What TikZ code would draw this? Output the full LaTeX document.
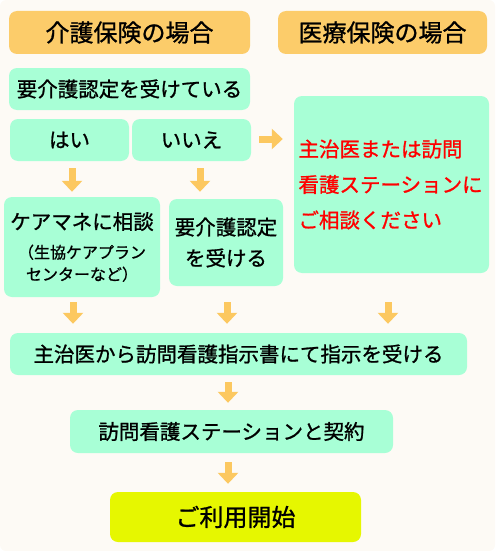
\documentclass[tikz,border=0pt]{standalone}
\usepackage{fontspec}
\setmainfont[FakeBold=1]{Noto Sans CJK JP}
\usetikzlibrary{arrows.meta}
\definecolor{grund}{RGB}{253,250,245}
\definecolor{minze}{RGB}{168,255,214}
\definecolor{kopffarbe}{RGB}{252,204,106}
\definecolor{pfeilfarbe}{RGB}{252,200,96}
\definecolor{startfarbe}{RGB}{230,247,0}
\definecolor{rottext}{RGB}{255,0,0}
\begin{document}
\begin{tikzpicture}[x=1pt, y=-1pt,
		kasten/.style={fill=minze, rounded corners=8pt, inner sep=0pt, align=center,
			font=\fontsize{20.5}{24}\selectfont},
		kopf/.style={fill=kopffarbe, rounded corners=8pt, inner sep=0pt,
			minimum height=43pt, font=\fontsize{24}{28}\selectfont},
		pfeil/.style={draw=pfeilfarbe, line width=7pt, -{Triangle[width=20pt,length=11pt]}}]
		% Hintergrund
		\useasboundingbox (0,0) rectangle (495,551);
		\fill[grund, rounded corners=6pt] (0,0) rectangle (495,551);
		% Kopfzeilen
		\node[kopf, minimum width=241pt] (kopfA) at (129.5,32.5) {介護保険の場合};
		\node[kopf, minimum width=209pt] (kopfB) at (382.5,32.5) {医療保険の場合};
		% Kaesten Pflegeversicherung
		\node[kasten, minimum width=241pt, minimum height=42pt] (nintei) at (129.5,89) {要介護認定を受けている};
		\node[kasten, minimum width=119pt, minimum height=42pt] (hai) at (69.5,140) {はい};
		\node[kasten, minimum width=119pt, minimum height=42pt] (iie) at (191.5,140) {いいえ};
		\node[kasten, minimum width=156pt, minimum height=100pt, font=\fontsize{20.5}{22}\selectfont]
			(cm) at (82,247) {\raisebox{-3pt}{ケアマネに相談}\\[10pt]{\fontsize{16}{22}\selectfont （生協ケアプラン}\\{\fontsize{16}{22}\selectfont センターなど）}};
		\node[kasten, minimum width=114pt, minimum height=87pt, font=\fontsize{20.5}{31}\selectfont]
			(yokaigo) at (226,242.5) {要介護認定\\を受ける};
		% Kasten Krankenversicherung
		\node[kasten, minimum width=195pt, minimum height=177pt, text width=186pt, align=left,
			text=rottext, font=\fontsize{20.5}{35.5}\selectfont]
			(iryo) at (391.5,184.5) {主治医または訪問\\看護ステーションに\\ご相談ください};
		% gemeinsamer Ablauf
		\node[kasten, minimum width=457pt, minimum height=42pt] (shiji) at (238.5,354) {主治医から訪問看護指示書にて指示を受ける};
		\node[kasten, minimum width=323pt, minimum height=43pt] (keiyaku) at (231.5,431.5) {訪問看護ステーションと契約};
		\node[kasten, fill=startfarbe, minimum width=251pt, minimum height=50pt,
			font=\fontsize{24}{28}\selectfont] (beginn) at (235.5,517) {ご利用開始};
		% Pfeile
		\coordinate (p1) at ([xshift=2.5pt]hai.south);
		\coordinate (p2) at ([xshift=8.5pt]iie.south);
		\coordinate (p3) at ([yshift=1pt]iie.east);
		\coordinate (p4) at ([xshift=-9pt]cm.south);
		\coordinate (p5) at ([xshift=1pt]yokaigo.south);
		\coordinate (p6) at ([xshift=-3.5pt]iryo.south);
		\coordinate (p7) at ([xshift=-3.5pt]keiyaku.north);
		\coordinate (p8) at ([xshift=-7.5pt]beginn.north);
		\draw[pfeil, shorten <=7pt, shorten >=5pt] (p1) -- (p1 |- cm.north);
		\draw[pfeil, shorten <=7pt, shorten >=7pt] (p2) -- (p2 |- yokaigo.north);
		\draw[pfeil, shorten <=8pt, shorten >=11pt] (p3) -- (p3 -| iryo.west);
		\draw[pfeil, shorten <=5pt, shorten >=9pt] (p4) -- (p4 |- shiji.north);
		\draw[pfeil, shorten <=16pt, shorten >=9pt] (p5) -- (p5 |- shiji.north);
		\draw[pfeil, shorten <=29pt, shorten >=9pt] (p6) -- (p6 |- shiji.north);
		\draw[pfeil, shorten <=7pt, shorten >=7pt] (p7 |- shiji.south) -- (p7);
		\draw[pfeil, shorten <=9pt, shorten >=8pt] (p8 |- keiyaku.south) -- (p8);
	\end{tikzpicture}
\end{document}
